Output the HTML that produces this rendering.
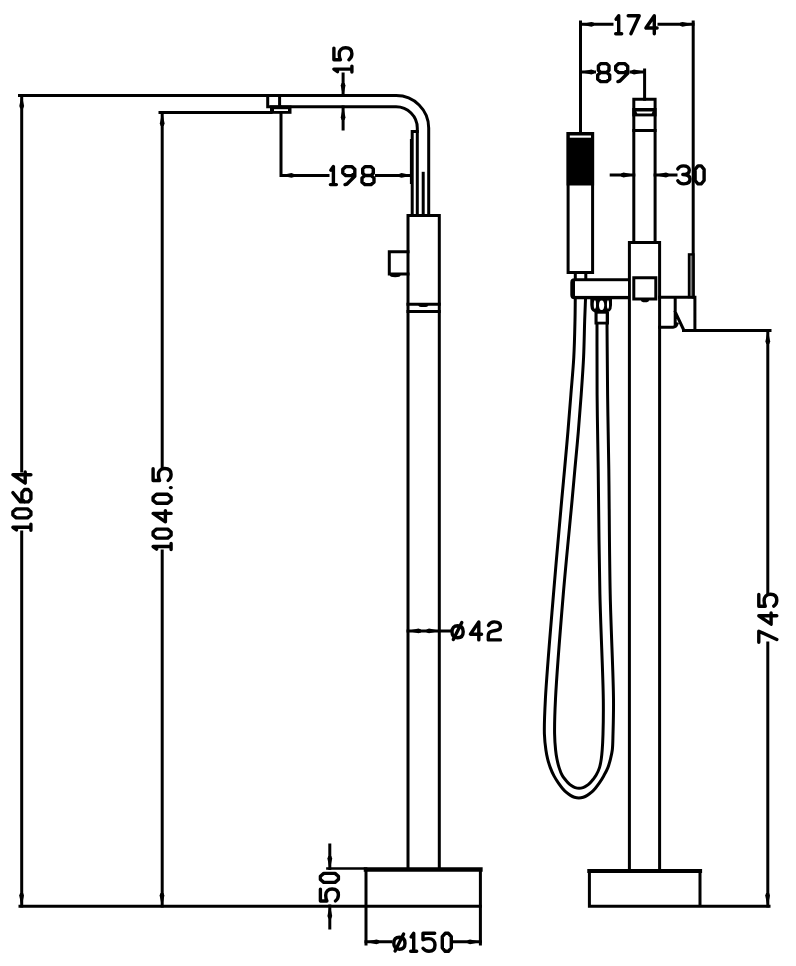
<!DOCTYPE html>
<html><head><meta charset="utf-8"><style>
html,body{margin:0;padding:0;background:#fff;}
body{width:796px;height:966px;overflow:hidden;}
svg{display:block;}
</style></head><body>
<svg width="796" height="966" viewBox="0 0 796 966">
<rect width="796" height="966" fill="#fff"/>
<g fill="none" stroke="#000" stroke-width="3.0" stroke-linecap="square" stroke-linejoin="miter">
<!-- LEFT FIGURE -->
<path d="M19.5,95.5 L396,95.5 A32.5,32.5 0 0 1 428.7,128 L428.7,215.5"/>
<path d="M280,106.8 L396,106.8 A21.2,21.2 0 0 1 417.3,128 L417.3,215.5"/>
<path d="M267.7,95.5 V106.8 H280 M279.6,95.5 V106.8"/>
<path d="M160,112.6 H271"/>
<path d="M21.7,95.5 V471 M21.7,532 V906"/>
<path d="M162.2,113 V467 M162.2,551 V906"/>
<path d="M20,906.2 H480.4"/>
<path d="M281,113 V175.4 H328 M376.5,175.4 H411"/>
<path d="M343.1,74 V95.5 M343.1,107 V129"/>
<path d="M412.2,215.5 V131.4 H417.3"/>
<path d="M410.9,140 V183" stroke-width="2" stroke-dasharray="1.2 0.8"/>
<path d="M423.2,173.3 V215.5"/>
<path d="M408,215.5 H439.3 M408,215.5 V869.5 M439.3,215.5 V869.5"/>
<path d="M408,251.8 H389.3 V274 H408"/>
<path d="M408,304.3 H439.3 M408,311.4 H439.3"/>
<path d="M408,630.9 H450"/>
<path d="M366,869.5 V944 M480.4,869.5 V944"/>
<path d="M327.5,868.5 H366" stroke-width="2.7"/>
<path d="M366,869.5 H480.4" stroke-width="4.5"/>
<path d="M329.8,845 V868.5 M329.8,906 V928"/>
<path d="M366,941.8 H391 M453.5,941.8 H480.4"/>
<!-- RIGHT FIGURE -->
<path d="M580.5,22 V133.4"/>
<path d="M693.2,22 V297"/>
<path d="M580.5,24.3 H612 M659,24.3 H693"/>
<path d="M580.5,72 H594.5 M631,72 H644.6 M644.6,70 V99.3"/>
<path d="M633.8,99.3 H655.1 V242.6 M633.8,99.3 V242.6"/>
<path d="M633.8,130.5 H655.1"/>
<path d="M611.2,175 H633.8 M655.1,175 H676"/>
<path d="M568.1,133.4 H592.6 V272.5 H568.1 Z"/>
<path d="M575.3,272.5 V279.6 M585.8,272.5 V279.6"/>
<path d="M629.4,242.6 H659.6 M629.4,242.6 V871 M659.6,242.6 V871"/>
<path d="M633.8,277.7 H655.8 V299.1 H633.8 Z"/>
<path d="M659.6,297.2 H694.9 V330.6 M675.2,297.2 V326 M675.2,312 L683.5,329.5 M683.5,330.6 H770 M659.6,327.2 H673 Q676,327 677,324"/>
<path d="M767.8,331 V593 M767.8,643 V906"/>
<path d="M589.4,871 V906 M700,871 V906 M589.4,906.2 H769"/>
<path d="M589.4,871 H700" stroke-width="4.2"/>
<!-- hose -->
<path d="M575.30,297.00 C575.20,304.67 575.19,311.43 575.00,320.00 C574.75,330.88 574.48,344.63 573.80,357.00 C573.12,369.47 571.88,382.02 570.90,394.50 C569.92,406.95 568.95,419.38 567.90,431.80 C566.85,444.21 565.67,457.27 564.60,469.00 C563.64,479.54 562.96,486.19 561.80,499.00 C559.74,521.78 556.17,561.53 553.50,594.00 C550.69,628.12 546.75,673.37 545.40,699.00 C544.62,713.78 544.09,724.60 544.40,734.00 C544.61,740.37 545.25,745.47 545.90,750.00 C546.38,753.38 546.87,755.89 547.60,758.80 C548.34,761.75 549.23,764.74 550.30,767.60 C551.36,770.44 552.61,773.30 553.99,775.90 C555.30,778.38 556.84,780.74 558.32,782.90 C559.69,784.88 561.09,786.75 562.51,788.40 C563.79,789.88 565.06,791.21 566.42,792.40 C567.71,793.53 569.08,794.58 570.47,795.40 C571.75,796.16 573.03,796.78 574.42,797.20 C575.82,797.62 577.37,797.90 578.85,797.90 C580.33,797.90 581.88,797.62 583.28,797.20 C584.67,796.78 585.95,796.16 587.23,795.40 C588.62,794.58 589.99,793.53 591.28,792.40 C592.64,791.21 593.91,789.88 595.19,788.40 C596.61,786.75 598.01,784.88 599.38,782.90 C600.86,780.74 602.33,778.36 603.71,775.90 C605.18,773.28 606.77,770.46 607.90,767.60 C609.03,764.76 609.76,761.75 610.50,758.80 C611.23,755.88 611.88,753.39 612.30,750.00 C612.86,745.48 612.82,740.37 613.00,734.00 C613.27,724.59 613.63,713.79 613.50,699.00 C613.28,673.38 610.98,630.53 610.20,594.00 C609.35,554.15 609.30,505.31 608.80,469.00 C608.42,440.97 607.90,419.08 607.60,394.50 C607.31,370.42 607.20,346.83 607.00,323.00"/>
<path d="M585.60,297.00 C585.30,304.67 585.00,311.43 584.70,320.00 C584.33,330.87 584.18,344.63 583.60,357.00 C583.02,369.46 582.08,382.02 581.20,394.50 C580.32,406.95 579.35,419.38 578.30,431.80 C577.25,444.21 575.96,457.27 574.90,469.00 C573.94,479.54 573.38,486.20 572.20,499.00 C570.11,521.79 566.03,561.53 563.30,594.00 C560.44,628.11 556.78,673.37 555.50,699.00 C554.76,713.78 554.43,724.59 554.60,734.00 C554.72,740.37 555.12,745.47 555.60,750.00 C555.95,753.38 556.32,755.88 556.90,758.80 C557.48,761.75 558.20,764.79 559.10,767.60 C559.96,770.28 561.01,773.20 562.15,775.30 C563.03,776.91 564.00,778.04 565.00,779.30 C565.98,780.53 566.97,781.72 568.08,782.80 C569.19,783.88 570.43,784.98 571.67,785.80 C572.80,786.55 573.93,787.18 575.17,787.60 C576.41,788.02 577.79,788.30 579.10,788.30 C580.41,788.30 581.79,788.02 583.03,787.60 C584.27,787.18 585.40,786.55 586.53,785.80 C587.77,784.98 589.01,783.88 590.12,782.80 C591.23,781.72 592.22,780.53 593.20,779.30 C594.20,778.04 595.13,776.90 596.05,775.30 C597.25,773.20 598.63,770.30 599.50,767.60 C600.40,764.81 600.85,761.74 601.30,758.80 C601.75,755.88 601.94,753.37 602.20,750.00 C602.55,745.46 602.81,740.37 603.00,734.00 C603.28,724.59 603.48,713.79 603.30,699.00 C603.00,673.38 600.74,630.53 599.90,594.00 C598.98,554.15 598.71,505.31 598.20,469.00 C597.80,440.97 597.30,419.08 597.10,394.50 C596.91,370.42 597.03,346.83 597.00,323.00"/>
</g>
<g fill="#000" stroke="none">
<polygon points="22.10,96.50 24.10,106.00 23.20,108.50 20.20,108.50 19.30,106.00 21.30,96.50"/>
<polygon points="22.00,905.00 24.00,895.50 23.10,893.00 20.10,893.00 19.20,895.50 21.20,905.00"/>
<polygon points="162.60,114.00 164.60,123.50 163.70,126.00 160.70,126.00 159.80,123.50 161.80,114.00"/>
<polygon points="162.40,905.00 164.40,895.50 163.50,893.00 160.50,893.00 159.60,895.50 161.60,905.00"/>
<polygon points="343.50,95.00 345.50,85.50 344.60,83.00 341.60,83.00 340.70,85.50 342.70,95.00"/>
<polygon points="343.50,108.00 345.50,117.50 344.60,120.00 341.60,120.00 340.70,117.50 342.70,108.00"/>
<polygon points="282.00,175.80 291.50,177.80 294.00,176.90 294.00,173.90 291.50,173.00 282.00,175.00"/>
<polygon points="411.00,175.80 401.50,177.80 399.00,176.90 399.00,173.90 401.50,173.00 411.00,175.00"/>
<polygon points="409.00,631.30 418.50,633.30 421.00,632.40 421.00,629.40 418.50,628.50 409.00,630.50"/>
<polygon points="438.50,631.30 429.00,633.30 426.50,632.40 426.50,629.40 429.00,628.50 438.50,630.50"/>
<polygon points="330.20,868.00 332.20,858.50 331.30,856.00 328.30,856.00 327.40,858.50 329.40,868.00"/>
<polygon points="330.20,906.50 332.20,916.00 331.30,918.50 328.30,918.50 327.40,916.00 329.40,906.50"/>
<polygon points="367.00,942.20 376.50,944.20 379.00,943.30 379.00,940.30 376.50,939.40 367.00,941.40"/>
<polygon points="479.50,942.20 470.00,944.20 467.50,943.30 467.50,940.30 470.00,939.40 479.50,941.40"/>
<polygon points="582.00,24.70 591.50,26.70 594.00,25.80 594.00,22.80 591.50,21.90 582.00,23.90"/>
<polygon points="692.00,24.70 682.50,26.70 680.00,25.80 680.00,22.80 682.50,21.90 692.00,23.90"/>
<polygon points="582.00,72.40 591.50,74.40 594.00,73.50 594.00,70.50 591.50,69.60 582.00,71.60"/>
<polygon points="643.50,72.40 634.00,74.40 631.50,73.50 631.50,70.50 634.00,69.60 643.50,71.60"/>
<polygon points="633.00,175.40 623.50,177.40 621.00,176.50 621.00,173.50 623.50,172.60 633.00,174.60"/>
<polygon points="656.50,175.40 666.00,177.40 668.50,176.50 668.50,173.50 666.00,172.60 656.50,174.60"/>
<polygon points="768.20,332.00 770.20,341.50 769.30,344.00 766.30,344.00 765.40,341.50 767.40,332.00"/>
<polygon points="768.00,905.00 770.00,895.50 769.10,893.00 766.10,893.00 765.20,895.50 767.20,905.00"/>
<rect x="270" y="105.5" width="21.5" height="8.3"/>
<rect x="566.6" y="132" width="27.5" height="53.5"/>
<rect x="632.3" y="108" width="24.3" height="8.4"/>
<ellipse cx="423.3" cy="305.2" rx="5" ry="1.9"/>
<ellipse cx="395.2" cy="275.3" rx="5.4" ry="1.9"/>
<ellipse cx="645" cy="300.4" rx="4" ry="1.8"/>
</g>
<g fill="#fff" stroke="none">
<rect x="274" y="109.2" width="14" height="1.8"/>
<rect x="569.8" y="135.5" width="21.2" height="2.2"/>
<polygon points="636.3,111.5 652.6,111.5 651.6,113.6 637.3,113.6"/>
</g>
<!-- nut -->
<path d="M590.3,296.5 H612 V305 Q612,313 604,313 H598.3 Q590.3,313 590.3,305 Z" fill="#000"/>
<rect x="594.5" y="312" width="14.5" height="12.5" fill="#000"/>
<g fill="#fff">
<ellipse cx="594.9" cy="304.6" rx="1.15" ry="4.3"/>
<ellipse cx="601.6" cy="305.2" rx="2.6" ry="4.8"/>
<ellipse cx="608" cy="304.6" rx="1.05" ry="4.3"/>
<rect x="597.6" y="313.7" width="8.1" height="8"/>
</g>
<!-- bracket -->
<path d="M574.5,278.3 H629.4 V299.2 H574.5 Q570.3,299.2 570.3,295 V282.5 Q570.3,278.3 574.5,278.3 Z" fill="#000"/>
<rect x="575" y="281.2" width="53" height="14.7" fill="#fff"/>
<rect x="689" y="254.4" width="4.4" height="42.6" fill="#777" stroke="#000" stroke-width="2.4"/>
<g fill="none" stroke="#000" stroke-width="3.4" stroke-linecap="round" stroke-linejoin="round">
<path transform="translate(330.40,166.60)" d="M0.4,3.6 L3,0 L3,18 M0,18 L6,18"/>
<path transform="translate(342.80,166.60)" d="M3,0 L9,0 L12,2.6 L12,6.4 L9,9 L3,9 L0,6.4 L0,2.6 Z M12,5 L12,9.6 L4.2,17.4 L2.2,18"/>
<path transform="translate(362.00,166.60)" d="M3,0 L9,0 L11.3,2.3 L11.3,6.6 L9,8.9 L3,8.9 L0.7,6.6 L0.7,2.3 Z M3,8.9 L9,8.9 L12,11.4 L12,15.6 L9,18 L3,18 L0,15.6 L0,11.4 Z"/>
<path transform="translate(615.70,15.70)" d="M0.4,3.6 L3,0 L3,18 M0,18 L6,18"/>
<path transform="translate(628.20,15.70)" d="M0,0 L11,0 L2.7,18"/>
<path transform="translate(645.90,15.70)" d="M8.4,18 L8.4,0 L0,12.3 L11.2,12.3"/>
<path transform="translate(597.70,63.60)" d="M3,0 L9,0 L11.3,2.3 L11.3,6.6 L9,8.9 L3,8.9 L0.7,6.6 L0.7,2.3 Z M3,8.9 L9,8.9 L12,11.4 L12,15.6 L9,18 L3,18 L0,15.6 L0,11.4 Z"/>
<path transform="translate(615.70,63.60)" d="M3,0 L9,0 L12,2.6 L12,6.4 L9,9 L3,9 L0,6.4 L0,2.6 Z M12,5 L12,9.6 L4.2,17.4 L2.2,18"/>
<path transform="translate(677.80,165.90)" d="M0,3 C1.2,0.8 3,0 5.5,0 C9.5,0 11.5,1.6 11.5,4.3 C11.5,7.2 9.5,8.6 5,8.6 C10,8.6 12.2,10.3 12.2,13.2 C12.2,16.4 10,18 6,18 C3,18 1.2,17 0,14.8"/>
<path transform="translate(695.10,165.90)" d="M2.9,0 L6.1,0 L9,3.4 L9,14.6 L6.1,18 L2.9,18 L0,14.6 L0,3.4 Z"/>
<path transform="translate(452.00,621.90)" d="M5.6,3.9 Q11.2,3.9 11.2,9.9 Q11.2,15.9 5.6,15.9 Q0,15.9 0,9.9 Q0,3.9 5.6,3.9 Z M1.3,17.7 L9.8,0.7"/>
<path transform="translate(470.40,621.90)" d="M8.4,18 L8.4,0 L0,12.3 L11.2,12.3"/>
<path transform="translate(488.30,621.90)" d="M0.2,3.6 C1.5,0.6 3.5,0 6,0 C10.2,0 12.1,1.6 12.1,4.5 C12.1,7.2 10.2,8.2 7.3,8.6 L4,9.2 C1.2,9.7 0,11 0,13.5 L0,18 L12.1,18"/>
<path transform="translate(393.80,933.30)" d="M5.6,3.9 Q11.2,3.9 11.2,9.9 Q11.2,15.9 5.6,15.9 Q0,15.9 0,9.9 Q0,3.9 5.6,3.9 Z M1.3,17.7 L9.8,0.7"/>
<path transform="translate(410.70,933.30)" d="M0.4,3.6 L3,0 L3,18 M0,18 L6,18"/>
<path transform="translate(423.00,933.30)" d="M11.7,0 L0,0 L0,6.5 C1.9,5.6 3.8,5.3 5.8,5.3 C9.6,5.3 12,7.8 12,11.7 C12,15.8 9.6,18 6,18 C3.4,18 1.5,17 0,15"/>
<path transform="translate(442.30,933.30)" d="M2.9,0 L6.1,0 L9,3.4 L9,14.6 L6.1,18 L2.9,18 L0,14.6 L0,3.4 Z"/>
<path transform="translate(12.90,530.30) rotate(-90)" d="M0.4,3.6 L3,0 L3,18 M0,18 L6,18"/>
<path transform="translate(12.90,517.90) rotate(-90)" d="M2.9,0 L6.1,0 L9,3.4 L9,14.6 L6.1,18 L2.9,18 L0,14.6 L0,3.4 Z"/>
<path transform="translate(12.90,501.90) rotate(-90)" d="M9.3,0 L0,7.6 L0,15.4 L3,18 L9.4,18 L12.4,15.4 L12.4,11.6 L9.4,9 L3,9 L0,11.6"/>
<path transform="translate(12.90,483.10) rotate(-90)" d="M8.4,18 L8.4,0 L0,12.3 L11.2,12.3"/>
<path transform="translate(153.10,549.50) rotate(-90)" d="M0.4,3.6 L3,0 L3,18 M0,18 L6,18"/>
<path transform="translate(153.10,538.10) rotate(-90)" d="M2.9,0 L6.1,0 L9,3.4 L9,14.6 L6.1,18 L2.9,18 L0,14.6 L0,3.4 Z"/>
<path transform="translate(153.10,521.80) rotate(-90)" d="M8.4,18 L8.4,0 L0,12.3 L11.2,12.3"/>
<path transform="translate(153.10,503.30) rotate(-90)" d="M2.9,0 L6.1,0 L9,3.4 L9,14.6 L6.1,18 L2.9,18 L0,14.6 L0,3.4 Z"/>
<path transform="translate(153.10,487.60) rotate(-90)" d="M0,17.4 L0,18"/>
<path transform="translate(153.10,480.50) rotate(-90)" d="M11.7,0 L0,0 L0,6.5 C1.9,5.6 3.8,5.3 5.8,5.3 C9.6,5.3 12,7.8 12,11.7 C12,15.8 9.6,18 6,18 C3.4,18 1.5,17 0,15"/>
<path transform="translate(333.90,72.10) rotate(-90)" d="M0.4,3.6 L3,0 L3,18 M0,18 L6,18"/>
<path transform="translate(333.90,59.80) rotate(-90)" d="M11.7,0 L0,0 L0,6.5 C1.9,5.6 3.8,5.3 5.8,5.3 C9.6,5.3 12,7.8 12,11.7 C12,15.8 9.6,18 6,18 C3.4,18 1.5,17 0,15"/>
<path transform="translate(320.40,901.00) rotate(-90)" d="M11.7,0 L0,0 L0,6.5 C1.9,5.6 3.8,5.3 5.8,5.3 C9.6,5.3 12,7.8 12,11.7 C12,15.8 9.6,18 6,18 C3.4,18 1.5,17 0,15"/>
<path transform="translate(320.40,882.40) rotate(-90)" d="M2.9,0 L6.1,0 L9,3.4 L9,14.6 L6.1,18 L2.9,18 L0,14.6 L0,3.4 Z"/>
<path transform="translate(758.80,642.20) rotate(-90)" d="M0,0 L11,0 L2.7,18"/>
<path transform="translate(758.80,624.20) rotate(-90)" d="M8.4,18 L8.4,0 L0,12.3 L11.2,12.3"/>
<path transform="translate(758.80,606.20) rotate(-90)" d="M11.7,0 L0,0 L0,6.5 C1.9,5.6 3.8,5.3 5.8,5.3 C9.6,5.3 12,7.8 12,11.7 C12,15.8 9.6,18 6,18 C3.4,18 1.5,17 0,15"/>
</g>
</svg>
</body></html>
